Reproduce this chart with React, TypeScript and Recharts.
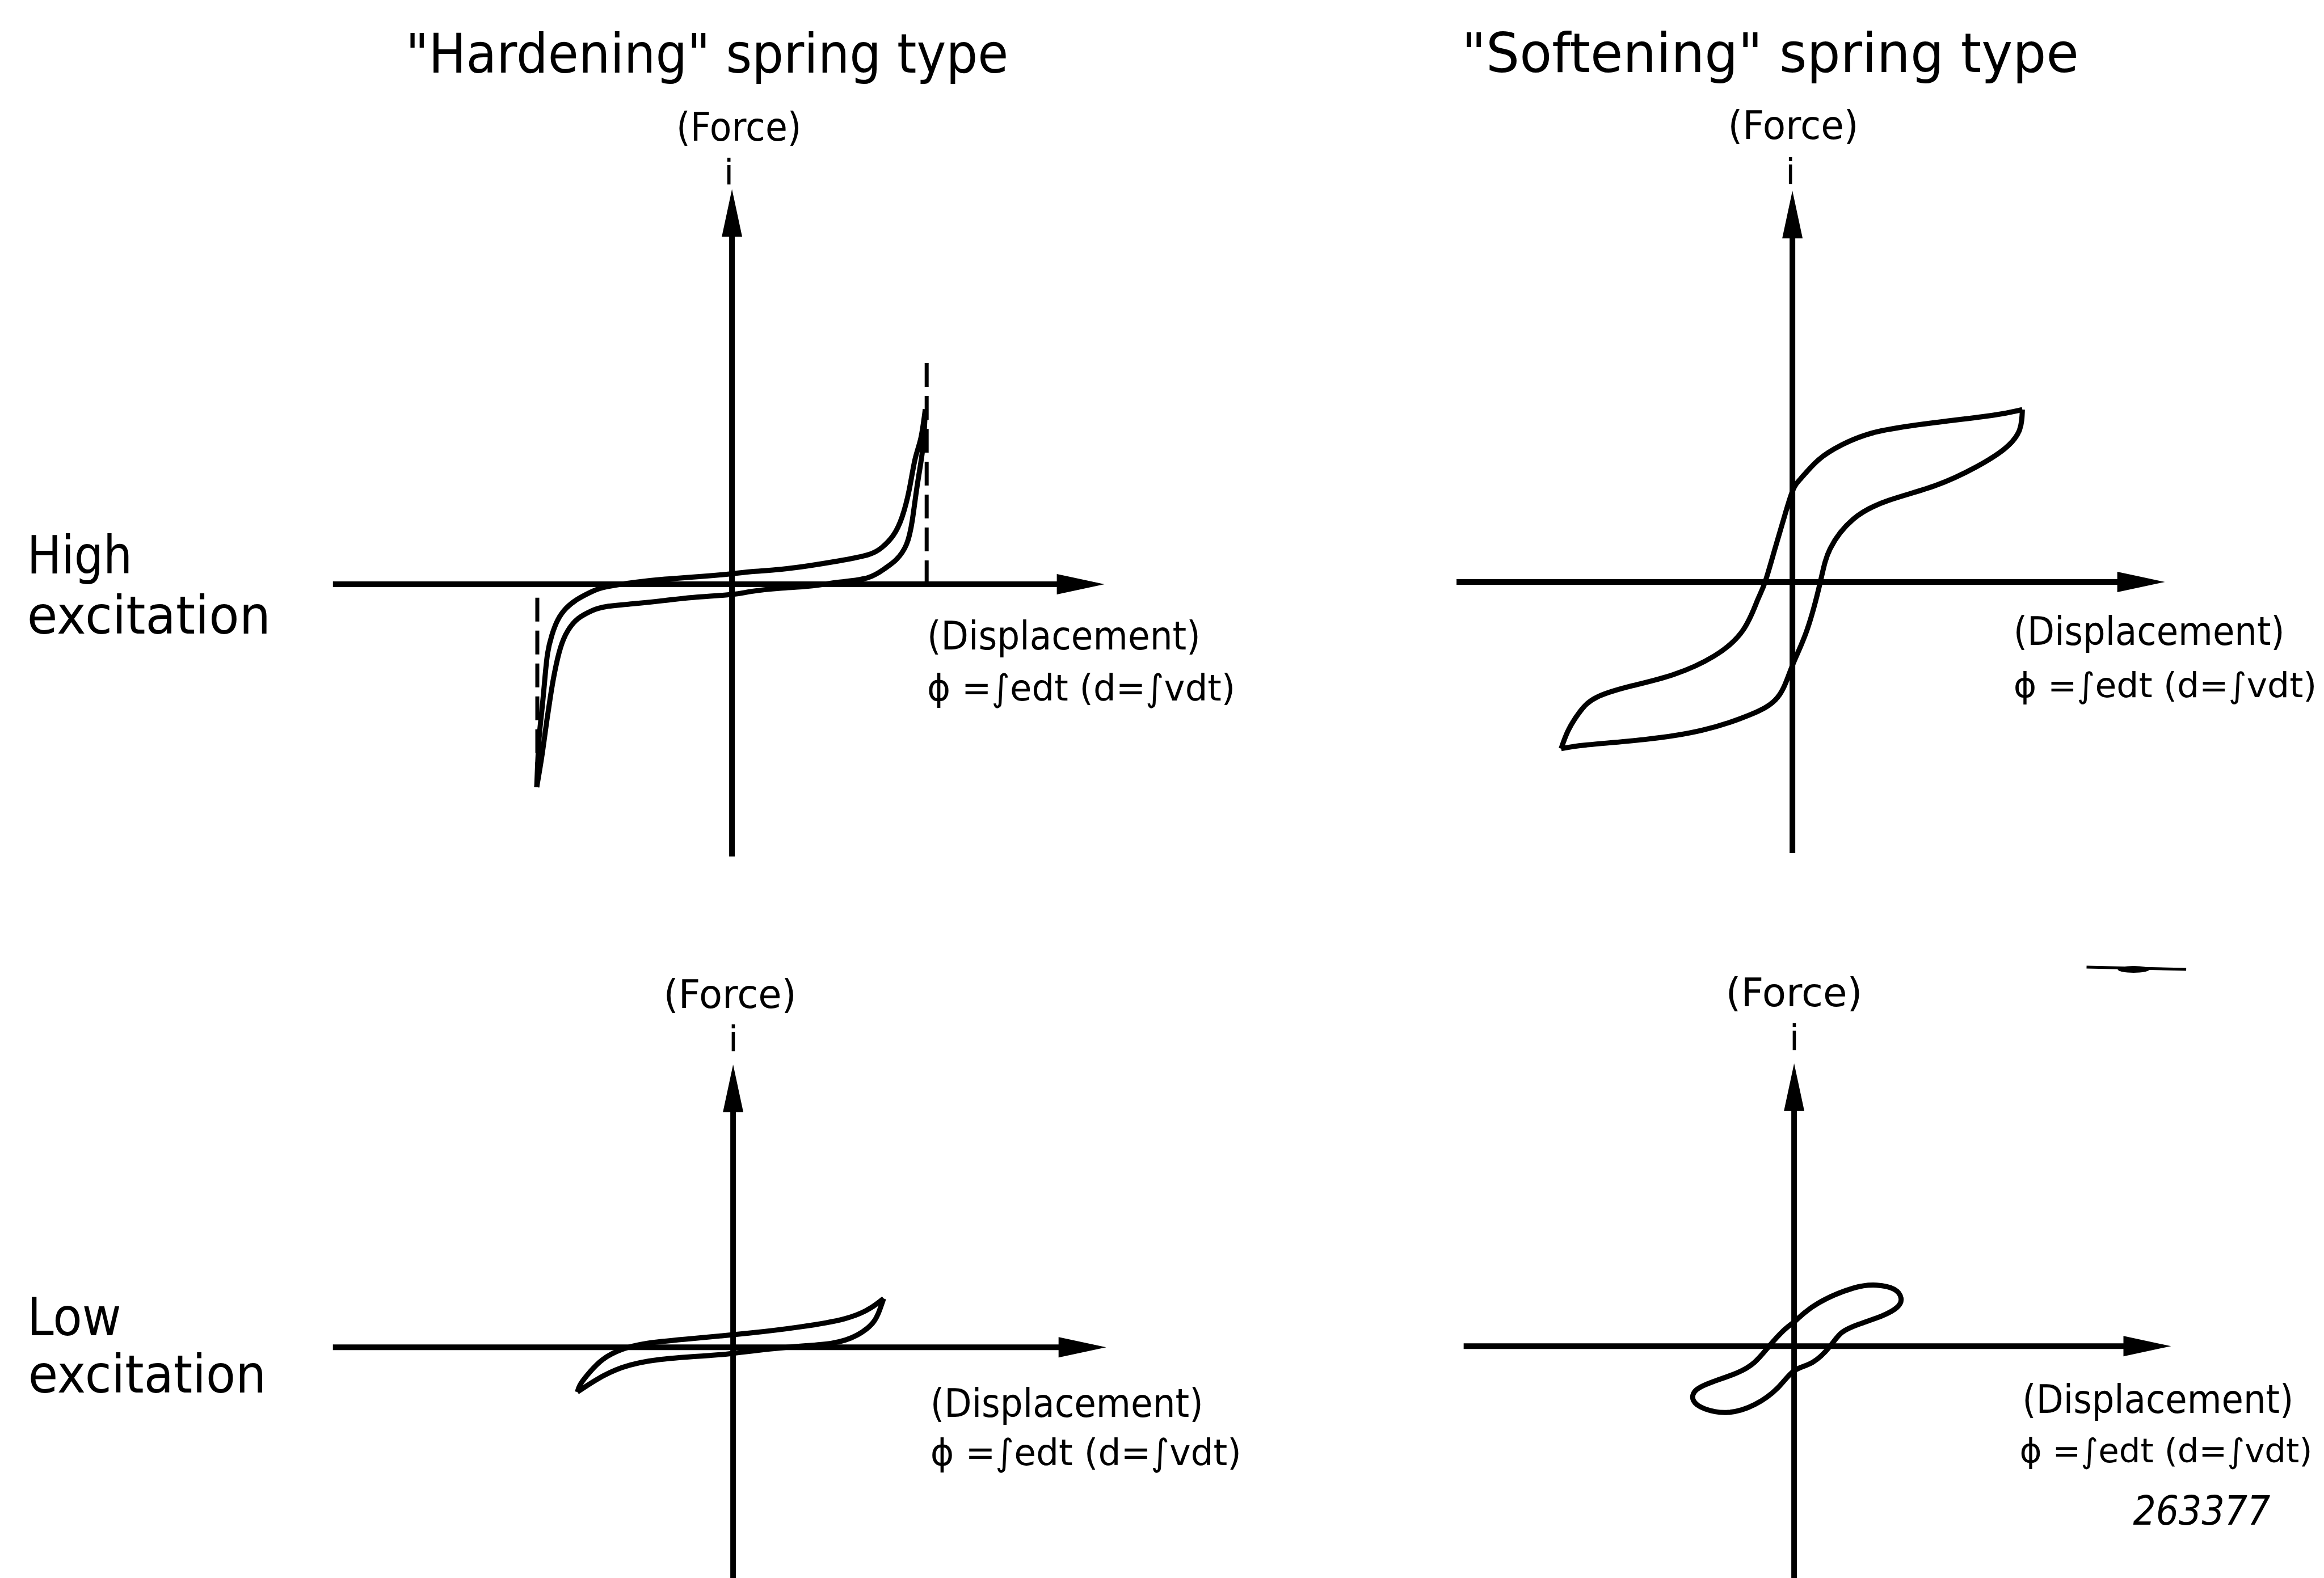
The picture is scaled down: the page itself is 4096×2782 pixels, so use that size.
import React from 'react';
import { ScatterChart, Scatter, XAxis, YAxis, ReferenceLine } from 'recharts';

// reference pixel -> window pixel
const S = 4096 / 4199;
// one data unit = 35 reference px
const U = 35 * S;

// ---------- DATA (displacement, force) ----------
// "Hardening" spring, high excitation
const hardHighUpper = [
  [9.98, 9.03], [9.75, 7.54], [9.45, 6.45], [9.15, 4.88], [8.78, 3.47], [8.33, 2.53], [7.74, 1.9],
  [6.99, 1.51], [5.49, 1.2], [4.0, 0.96], [2.51, 0.77], [1.01, 0.65], [0, 0.54], [-1.98, 0.37],
  [-3.47, 0.26], [-4.97, 0.1], [-6.46, -0.13], [-7.21, -0.37], [-7.95, -0.76], [-8.55, -1.23],
  [-9.0, -1.86], [-9.3, -2.64], [-9.52, -3.58], [-9.67, -4.99], [-9.82, -6.56], [-9.97, -8.13], [-10.08, -10.48],
];
const hardHighLower = [
  [-10.08, -10.48], [-9.82, -8.91], [-9.6, -7.34], [-9.37, -5.78], [-9.15, -4.52], [-8.85, -3.27],
  [-8.48, -2.41], [-7.95, -1.78], [-7.21, -1.36], [-6.46, -1.15], [-4.97, -1.0], [-3.47, -0.84],
  [-1.98, -0.68], [0, -0.53], [1.01, -0.37], [2.51, -0.21], [4.0, -0.1], [5.49, 0.1], [6.99, 0.33],
  [7.89, 0.81], [8.48, 1.27], [9.01, 2.06], [9.31, 3.31], [9.53, 4.88], [9.75, 6.29], [9.9, 7.54], [9.98, 9.03],
];
const hardHighLimitRight = [[10.05, 0], [10.05, 11.77]];
const hardHighLimitLeft = [[-10.05, -0.7], [-10.05, -10.5]];

// "Softening" spring, high excitation
const softHighUpper = [
  [11.87, 8.9], [10.37, 8.61], [7.36, 8.23], [4.35, 7.75], [2.55, 7.08], [1.35, 6.31], [0.45, 5.36],
  [0, 4.68], [-0.45, 3.25], [-0.9, 1.72], [-1.41, 0], [-1.81, -0.96], [-2.55, -2.49], [-4.05, -3.83],
  [-6.16, -4.79], [-8.26, -5.36], [-10.07, -5.94], [-10.97, -6.7], [-11.57, -7.66], [-11.94, -8.61],
];
const softHighLower = [
  [-11.94, -8.61], [-10.67, -8.42], [-7.67, -8.14], [-4.66, -7.66], [-2.26, -6.89], [-0.75, -5.94],
  [0, -4.31], [0.75, -2.49], [1.44, 0], [1.95, 1.72], [3.15, 3.25], [4.96, 4.21], [7.36, 4.97],
  [9.47, 5.93], [10.97, 6.89], [11.72, 7.84], [11.87, 8.9],
];

// "Hardening" spring, low excitation
const hardLowUpper = [
  [7.77, 2.52], [7.05, 2.0], [5.74, 1.47], [3.44, 1.05], [0.82, 0.73], [-2.46, 0.42], [-4.43, 0.21],
  [-5.74, -0.11], [-6.73, -0.63], [-7.38, -1.26], [-7.87, -1.89], [-8.04, -2.31],
];
const hardLowLower = [
  [-8.04, -2.31], [-7.05, -1.67], [-5.74, -1.05], [-3.77, -0.63], [-1.15, -0.42], [0, -0.31],
  [2.79, 0], [5.08, 0.21], [6.4, 0.63], [7.21, 1.26], [7.55, 1.89], [7.77, 2.52],
];

// "Softening" spring, low excitation (closed loop)
const softLowLoop = [
  [0, 1.25], [1.26, 2.23], [3.06, 3.0], [4.26, 3.15], [5.16, 2.94], [5.52, 2.46], [5.32, 2.01],
  [4.57, 1.58], [3.37, 1.14], [2.46, 0.7], [1.86, 0], [0.96, -0.83], [0, -1.27], [-0.84, -2.15],
  [-2.04, -3.02], [-3.4, -3.42], [-4.6, -3.24], [-5.2, -2.8], [-5.05, -2.26], [-4.15, -1.82],
  [-2.95, -1.38], [-2.04, -0.83], [-1.29, 0], [-0.54, 0.81], [0, 1.25],
];

// axis extents [start, arrow tip]
const hardHighXAxis = [-20.6, 19.23];
const hardHighYAxis = [-14.06, 20.4];
const softHighXAxis = [-17.34, 19.23];
const softHighYAxis = [-14.0, 20.2];
const hardLowXAxis = [-20.66, 19.26];
const hardLowYAxis = [-12.6, 14.6];
const softLowXAxis = [-17.06, 19.46];
const softLowYAxis = [-12.6, 14.6];

const FONT = "'DejaVu Sans', 'Noto Sans', sans-serif";

const toPts = (arr: number[][]) => arr.map(([x, y]) => ({ x, y }));

const ARROW_L = 84;
const ARROW_H = 18;

const ArrowRight = (p: any) => {
  const { cx, cy } = p;
  return (
    <polygon
      points={`${cx},${cy} ${cx - ARROW_L},${cy - ARROW_H} ${cx - ARROW_L},${cy + ARROW_H}`}
      fill="#000"
    />
  );
};
const ArrowUp = (p: any) => {
  const { cx, cy } = p;
  return (
    <polygon
      points={`${cx},${cy} ${cx - ARROW_H},${cy + ARROW_L} ${cx + ARROW_H},${cy + ARROW_L}`}
      fill="#000"
    />
  );
};
const NoDot = () => <g />;

type PanelProps = {
  ox: number;
  oy: number;
  yMin: number;
  yMax: number;
  curves: number[][][];
  xAxis: number[];
  yAxis: number[];
  dashed?: number[][][];
};

function Panel({ ox, oy, yMin, yMax, curves, xAxis, yAxis, dashed = [] }: PanelProps) {
  const xMin = -22;
  const xMax = 22;
  const width = (xMax - xMin) * U;
  const height = (yMax - yMin) * U;
  const left = ox * S + xMin * U;
  const top = oy * S - yMax * U;
  const back = 40 / U;
  return (
    <div style={{ position: 'absolute', left, top, width, height }}>
      <ScatterChart width={width} height={height} margin={{ top: 0, right: 0, bottom: 0, left: 0 }}>
        <XAxis type="number" dataKey="x" domain={[xMin, xMax]} hide allowDataOverflow />
        <YAxis type="number" dataKey="y" domain={[yMin, yMax]} hide allowDataOverflow />
        <ReferenceLine
          segment={[{ x: xAxis[0], y: 0 }, { x: xAxis[1] - back, y: 0 }]}
          stroke="#000"
          strokeWidth={10}
          ifOverflow="visible"
        />
        <ReferenceLine
          segment={[{ x: 0, y: yAxis[0] }, { x: 0, y: yAxis[1] - back }]}
          stroke="#000"
          strokeWidth={10}
          ifOverflow="visible"
        />
        {dashed.map((seg, i) => (
          <ReferenceLine
            key={'d' + i}
            segment={[{ x: seg[0][0], y: seg[0][1] }, { x: seg[1][0], y: seg[1][1] }]}
            stroke="#000"
            strokeWidth={7}
            strokeDasharray="42 16"
            ifOverflow="visible"
          />
        ))}
        {curves.map((c, i) => (
          <Scatter
            key={'c' + i}
            data={toPts(c)}
            line={{ stroke: '#000', strokeWidth: 9, strokeLinejoin: 'round' }}
            lineType="joint"
            lineJointType="natural"
            shape={NoDot}
            isAnimationActive={false}
          />
        ))}
        <Scatter data={[{ x: xAxis[1], y: 0 }]} shape={ArrowRight} isAnimationActive={false} />
        <Scatter data={[{ x: 0, y: yAxis[1] }]} shape={ArrowUp} isAnimationActive={false} />
      </ScatterChart>
    </div>
  );
}

type T = { t: string; x: number; y: number; w?: number; f: number; italic?: boolean; anchor?: string };

const LINE2 = 'ϕ =∫edt (d=∫vdt)';

const texts: T[] = [
  { t: '"Hardening" spring type', x: 733, y: 131, w: 1089, f: 98 },
  { t: '"Softening" spring type', x: 2641, y: 130, w: 1115, f: 98 },
  { t: 'High', x: 49, y: 1036, w: 190, f: 95 },
  { t: 'excitation', x: 49, y: 1145, w: 440, f: 95 },
  { t: 'Low', x: 49, y: 2413, w: 170, f: 95 },
  { t: 'excitation', x: 51, y: 2517, w: 430, f: 95 },
  // vertical-axis captions and current symbol
  { t: '(Force)', x: 1222, y: 254, w: 226, f: 71 },
  { t: '(Force)', x: 3122, y: 251, w: 236, f: 71 },
  { t: '(Force)', x: 1199, y: 1822, w: 240, f: 71 },
  { t: '(Force)', x: 3118, y: 1819, w: 247, f: 71 },
  { t: 'i', x: 1317, y: 333, f: 64, anchor: 'middle' },
  { t: 'i', x: 3235, y: 332, f: 64, anchor: 'middle' },
  { t: 'i', x: 1325, y: 1900, f: 64, anchor: 'middle' },
  { t: 'i', x: 3242, y: 1898, f: 64, anchor: 'middle' },
  // horizontal-axis captions
  { t: '(Displacement)', x: 1675, y: 1174, w: 494, f: 71 },
  { t: LINE2, x: 1675, y: 1266, w: 557, f: 66 },
  { t: '(Displacement)', x: 3638, y: 1166, w: 490, f: 71 },
  { t: LINE2, x: 3638, y: 1260, w: 548, f: 62 },
  { t: '(Displacement)', x: 1681, y: 2561, w: 493, f: 71 },
  { t: LINE2, x: 1681, y: 2648, w: 562, f: 66 },
  { t: '(Displacement)', x: 3654, y: 2554, w: 490, f: 71 },
  { t: LINE2, x: 3649, y: 2643, w: 529, f: 60 },
  { t: '263377', x: 3854, y: 2756, w: 248, f: 73, italic: true },
];

export default function App() {
  return (
    <div
      style={{
        position: 'fixed',
        left: 0,
        top: 0,
        width: 4096,
        height: 2782,
        overflow: 'hidden',
        background: '#fff',
      }}
    >
      <Panel
        ox={1323}
        oy={1056}
        yMin={-15}
        yMax={21}
        curves={[hardHighUpper, hardHighLower]}
        xAxis={hardHighXAxis}
        yAxis={hardHighYAxis}
        dashed={[hardHighLimitRight, hardHighLimitLeft]}
      />
      <Panel
        ox={3239}
        oy={1052}
        yMin={-15}
        yMax={21}
        curves={[softHighUpper, softHighLower]}
        xAxis={softHighXAxis}
        yAxis={softHighYAxis}
      />
      <Panel
        ox={1325}
        oy={2435}
        yMin={-13}
        yMax={16}
        curves={[hardLowUpper, hardLowLower]}
        xAxis={hardLowXAxis}
        yAxis={hardLowYAxis}
      />
      <Panel
        ox={3242}
        oy={2433}
        yMin={-13}
        yMax={16}
        curves={[softLowLoop]}
        xAxis={softLowXAxis}
        yAxis={softLowYAxis}
      />
      <svg
        width={4096}
        height={2782}
        style={{ position: 'absolute', left: 0, top: 0, pointerEvents: 'none' }}
      >
        {texts.map((d, i) => (
          <text
            key={i}
            x={d.x * S}
            y={d.y * S}
            fontSize={d.f * S}
            fontFamily={FONT}
            fontStyle={d.italic ? 'italic' : 'normal'}
            textAnchor={d.anchor || 'start'}
            textLength={d.w ? d.w * S : undefined}
            lengthAdjust={d.w ? 'spacingAndGlyphs' : undefined}
            fill="#000"
          >
            {d.t}
          </text>
        ))}
        <path
          d={`M ${3770 * S} ${1748 * S} L ${3950 * S} ${1752 * S}`}
          stroke="#000"
          strokeWidth={5}
        />
        <ellipse cx={3855 * S} cy={1752 * S} rx={28} ry={6} fill="#000" />
      </svg>
    </div>
  );
}
